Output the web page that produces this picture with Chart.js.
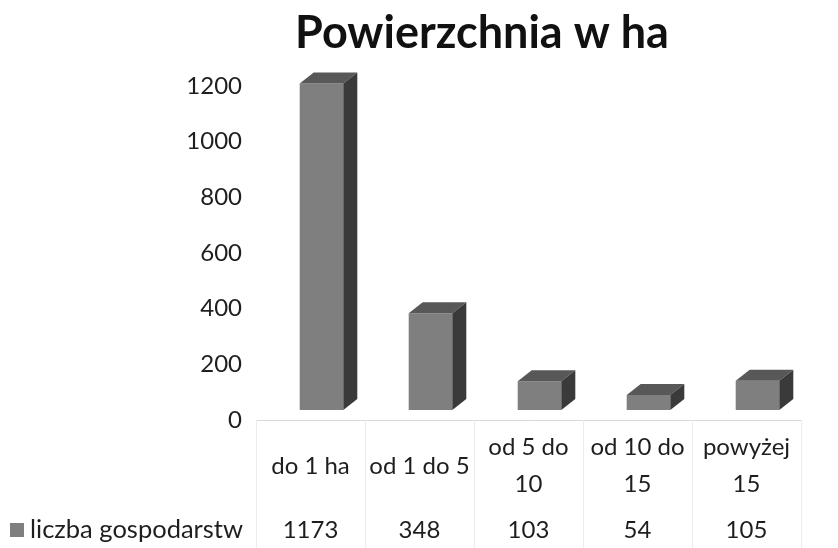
<!DOCTYPE html>
<html>
<head>
<meta charset="utf-8">
<script src="https://cdn.jsdelivr.net/npm/chart.js@4.4.0/dist/chart.umd.min.js"></script>
<style>
  body { margin: 0; background: #fff; }
  #wrap { width: 838px; height: 548px; }
</style>
</head>
<body>
<div id="wrap"><canvas id="PowChart" width="838" height="548"></canvas></div>
<script>
var categories = [['do 1 ha'], ['od 1 do 5'], ['od 5 do', '10'], ['od 10 do', '15'], ['powyżej', '15']];
var seriesName = 'liczba gospodarstw';
var values = [1173, 348, 103, 54, 105];
var yTicks = [0, 200, 400, 600, 800, 1000, 1200];

var FONT = 'Lato, "Open Sans", sans-serif';
var DX = 14, DY = 11;     // depth of the 3d boxes
var FLOOR = 10;           // floor/labels sit a bit lower than the front faces
var TABLE_SHIFT = -11;    // table columns are left of the bar fronts

// 3d box faces + data table under the plot
var box3d = {
  id: 'box3d',
  afterDatasetsDraw: function(chart) {
    var ctx = chart.ctx;
    var meta = chart.getDatasetMeta(0);
    ctx.save();
    meta.data.forEach(function(bar) {
      var l = bar.x - bar.width / 2, r = bar.x + bar.width / 2;
      var t = bar.y, b = bar.base;
      ctx.fillStyle = '#585858';
      ctx.beginPath();
      ctx.moveTo(l, t); ctx.lineTo(l + DX, t - DY);
      ctx.lineTo(r + DX, t - DY); ctx.lineTo(r, t);
      ctx.closePath(); ctx.fill();
      ctx.fillStyle = '#3a3a3a';
      ctx.beginPath();
      ctx.moveTo(r, t); ctx.lineTo(r + DX, t - DY);
      ctx.lineTo(r + DX, b - DY); ctx.lineTo(r, b);
      ctx.closePath(); ctx.fill();
    });
    ctx.restore();
  },
  afterDraw: function(chart) {
    var ctx = chart.ctx;
    var xs = chart.scales.x, ys = chart.scales.y;
    var floorY = ys.getPixelForValue(0) + FLOOR;
    var step = xs.getPixelForValue(1) - xs.getPixelForValue(0);
    var left = xs.getPixelForValue(0) - step / 2 + TABLE_SHIFT;
    var n = categories.length;
    ctx.save();
    // floor line
    ctx.strokeStyle = '#d8d8d8';
    ctx.lineWidth = 1;
    ctx.beginPath();
    ctx.moveTo(left, floorY + 0.5);
    ctx.lineTo(left + step * n, floorY + 0.5);
    ctx.stroke();
    // table dividers
    ctx.strokeStyle = '#ececec';
    for (var k = 0; k <= n; k++) {
      var xx = Math.round(left + step * k) + 0.5;
      ctx.beginPath();
      ctx.moveTo(xx, floorY);
      ctx.lineTo(xx, 548);
      ctx.stroke();
    }
    ctx.fillStyle = '#1e1e1e';
    ctx.font = '24px ' + FONT;
    ctx.textAlign = 'center';
    ctx.textBaseline = 'middle';
    var lh = 37;
    categories.forEach(function(lines, i) {
      var cx = xs.getPixelForValue(i) + TABLE_SHIFT;
      var y0 = 466 - (lines.length - 1) * lh / 2;
      lines.forEach(function(s, j) { ctx.fillText(s, cx, y0 + j * lh); });
      ctx.fillText(String(values[i]), cx, 530);
    });
    // legend key
    ctx.fillStyle = '#7f7f7f';
    ctx.fillRect(10, 523, 14, 14);
    ctx.fillStyle = '#1e1e1e';
    ctx.font = '25.5px ' + FONT;
    ctx.textAlign = 'left';
    ctx.fillText(seriesName, 30, 530);
    ctx.restore();
  }
};

new Chart(document.getElementById('PowChart').getContext('2d'), {
  type: 'bar',
  data: {
    labels: categories,
    datasets: [{
      label: seriesName,
      data: values,
      backgroundColor: '#7f7f7f',
      borderWidth: 0,
      barPercentage: 0.4,
      categoryPercentage: 1
    }]
  },
  options: {
    responsive: false,
    animation: false,
    layout: { padding: { left: 152, right: 26, top: 0, bottom: 138 } },
    plugins: {
      legend: { display: false },
      tooltip: { enabled: false },
      title: {
        display: true,
        text: 'Powierzchnia w ha',
        color: '#111',
        font: { family: FONT, size: 45, weight: 'bold' },
        padding: { top: 6, bottom: 16 }
      }
    },
    scales: {
      x: { display: false },
      y: {
        min: 0, max: 1200,
        afterFit: function(s) { s.width = 115; },
        afterBuildTicks: function(s) { s.ticks = yTicks.map(function(v) { return { value: v }; }); },
        grid: { display: false },
        border: { display: false },
        ticks: {
          color: '#1e1e1e',
          font: { family: FONT, size: 24 },
          padding: 17,
          labelOffset: FLOOR,
          callback: function(v) { return String(v); }
        }
      }
    }
  },
  plugins: [box3d]
});
</script>
</body>
</html>
